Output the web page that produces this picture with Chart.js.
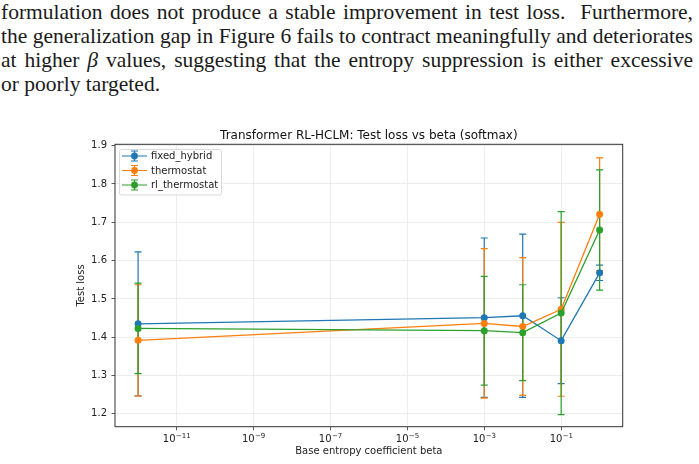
<!DOCTYPE html>
<html>
<head>
<meta charset="utf-8">
<script src="https://cdn.jsdelivr.net/npm/chart.js"></script>
<style>
  html, body { margin: 0; padding: 0; background: #fff; }
  body { width: 699px; height: 464px; position: relative; overflow: hidden; }
  .para { position: absolute; left: 1px; top: 0; width: 692px;
          font-family: "Liberation Serif", "DejaVu Serif", serif; font-size: 21.5px;
          color: #1a1a1a; line-height: 24px; }
  .para div { text-align: justify; text-align-last: justify; height: 24px; }
  .para div.last { text-align-last: left; }
  #chart { position: absolute; left: 0; top: 100px; }
</style>
</head>
<body>
<div class="para">
  <div>formulation does not produce a stable improvement in test loss. &nbsp;Furthermore,</div>
  <div>the generalization gap in Figure 6 fails to contract meaningfully and deteriorates</div>
  <div>at higher <i>β</i> values, suggesting that the entropy suppression is either excessive</div>
  <div class="last">or poorly targeted.</div>
</div>
<canvas id="chart" width="699" height="364"></canvas>
<script>
// x values (base entropy coefficient beta)
const betas = [1e-12, 1e-3, 1e-2, 1e-1, 1];

// mean test loss and error per series
const fixedHybrid = [1.435, 1.451, 1.456, 1.391, 1.568];
const fixedHybridErr = [0.188, 0.208, 0.213, 0.112, 0.020];
const thermostat = [1.392, 1.436, 1.428, 1.473, 1.721];
const thermostatErr = [0.145, 0.195, 0.180, 0.227, 0.147];
const rlThermostat = [1.423, 1.417, 1.412, 1.463, 1.680];
const rlThermostatErr = [0.118, 0.142, 0.125, 0.265, 0.157];

// tick labels
const yTicks = [1.2, 1.3, 1.4, 1.5, 1.6, 1.7, 1.8, 1.9];
const xTickExps = [-11, -9, -7, -5, -3, -1];

const seriesNames = ['fixed_hybrid', 'thermostat', 'rl_thermostat'];
const seriesColors = ['#1f77b4', '#ff7f0e', '#2ca02c'];
const seriesVals = [fixedHybrid, thermostat, rlThermostat];
const seriesErrs = [fixedHybridErr, thermostatErr, rlThermostatErr];

const FONT = '"DejaVu Sans", sans-serif';
const CAP = 3.5;

function toPoints(vals) {
    return betas.map((b, i) => ({ x: b, y: vals[i] }));
}

// error bars: all of them under all the lines, like matplotlib
const errorBars = {
    id: 'errorBars',
    beforeDatasetsDraw(chart) {
        const ctx = chart.ctx;
        const xs = chart.scales.x, ys = chart.scales.y;
        ctx.save();
        ctx.lineWidth = 1.2;
        seriesVals.forEach((vals, s) => {
            ctx.strokeStyle = seriesColors[s];
            vals.forEach((v, i) => {
                const px = xs.getPixelForValue(betas[i]);
                const top = ys.getPixelForValue(v + seriesErrs[s][i]);
                const bot = ys.getPixelForValue(v - seriesErrs[s][i]);
                ctx.beginPath();
                ctx.moveTo(px, top); ctx.lineTo(px, bot);
                ctx.moveTo(px - CAP, top); ctx.lineTo(px + CAP, top);
                ctx.moveTo(px - CAP, bot); ctx.lineTo(px + CAP, bot);
                ctx.stroke();
            });
        });
        ctx.restore();
    }
};

// frame, title, log tick labels, legend
const decorations = {
    id: 'decorations',
    afterDraw(chart) {
        const ctx = chart.ctx;
        const area = chart.chartArea;
        const xs = chart.scales.x;
        ctx.save();

        // frame
        ctx.strokeStyle = '#333';
        ctx.lineWidth = 1;
        ctx.strokeRect(area.left, area.top, area.right - area.left, area.bottom - area.top);

        // title
        ctx.fillStyle = '#111';
        ctx.font = '12px ' + FONT;
        ctx.textAlign = 'center';
        ctx.textBaseline = 'alphabetic';
        ctx.fillText('Transformer RL-HCLM: Test loss vs beta (softmax)', (area.left + area.right) / 2, 38.7);

        // x tick labels 10^n
        xTickExps.forEach(e => {
            const px = xs.getPixelForValue(Math.pow(10, e));
            const base = '10', sup = '\u2212' + Math.abs(e);
            ctx.font = '10px ' + FONT;
            const wb = ctx.measureText(base).width;
            ctx.font = '7px ' + FONT;
            const ws = ctx.measureText(sup).width;
            const x0 = px - (wb + ws) / 2;
            ctx.textAlign = 'left';
            ctx.fillStyle = '#222';
            ctx.font = '10px ' + FONT;
            ctx.fillText(base, x0, 342);
            ctx.font = '7px ' + FONT;
            ctx.fillText(sup, x0 + wb + 0.3, 338);
        });

        // legend
        const lx = 119.5, ly = 149.5 - 100, lw = 102, lh = 45.5;
        ctx.fillStyle = 'rgba(255,255,255,0.8)';
        ctx.strokeStyle = '#d0d0d0';
        ctx.lineWidth = 0.8;
        ctx.beginPath();
        ctx.roundRect(lx, ly, lw, lh, 2);
        ctx.fill();
        ctx.stroke();
        chart.data.datasets.forEach((ds, i) => {
            const ry = ly + 6.5 + i * 14.5;
            const cx = 134.5;
            ctx.strokeStyle = ds.borderColor;
            ctx.fillStyle = ds.borderColor;
            ctx.lineWidth = 1.2;
            ctx.beginPath();
            ctx.moveTo(122, ry); ctx.lineTo(147, ry);
            ctx.moveTo(cx, ry - 5); ctx.lineTo(cx, ry + 5);
            ctx.moveTo(cx - CAP, ry - 5); ctx.lineTo(cx + CAP, ry - 5);
            ctx.moveTo(cx - CAP, ry + 5); ctx.lineTo(cx + CAP, ry + 5);
            ctx.stroke();
            ctx.beginPath();
            ctx.arc(cx, ry, 3.4, 0, Math.PI * 2);
            ctx.fill();
            ctx.fillStyle = '#222';
            ctx.font = '10px ' + FONT;
            ctx.textAlign = 'left';
            ctx.textBaseline = 'middle';
            ctx.fillText(ds.label, 151, ry + 0.5);
        });

        ctx.restore();
    }
};

const datasets = seriesNames.map((name, s) => ({
    label: name,
    data: toPoints(seriesVals[s]),
    borderColor: seriesColors[s],
    backgroundColor: seriesColors[s],
    borderWidth: 1.3,
    pointRadius: 3.5,
    pointBorderWidth: 0,
    pointHoverRadius: 3.5,
    tension: 0,
    order: 3 - s
}));

new Chart(document.getElementById('chart'), {
    type: 'line',
    data: { datasets: datasets },
    options: {
        responsive: false,
        animation: false,
        events: [],
        layout: { padding: { top: 44.3, right: 76.3, left: 72, bottom: 0 } },
        plugins: {
            legend: { display: false },
            title: { display: false },
            tooltip: { enabled: false }
        },
        scales: {
            x: {
                type: 'logarithmic',
                min: Math.pow(10, -12.6),
                max: Math.pow(10, 0.6),
                afterBuildTicks: scale => {
                    scale.ticks = xTickExps.map(e => ({ value: Math.pow(10, e) }));
                },
                afterFit: scale => { scale.height = 37.3; },
                ticks: { display: false },
                grid: { color: '#e8e8e8', lineWidth: 0.8, drawTicks: true, tickLength: 3.5, tickColor: '#333' },
                border: { display: false },
                title: {
                    display: true,
                    text: 'Base entropy coefficient beta',
                    color: '#222',
                    font: { family: FONT, size: 10 },
                    padding: { top: 0, bottom: 6.5 }
                }
            },
            y: {
                min: 1.1665,
                max: 1.9035,
                afterBuildTicks: scale => {
                    scale.ticks = yTicks.map(v => ({ value: v }));
                },
                afterFit: scale => { scale.width = 115 - 72; },
                ticks: {
                    color: '#222',
                    font: { family: FONT, size: 10 },
                    padding: 4.5,
                    callback: v => Number(v).toFixed(1)
                },
                grid: { color: '#e8e8e8', lineWidth: 0.8, drawTicks: true, tickLength: 3.5, tickColor: '#333' },
                border: { display: false },
                title: {
                    display: true,
                    text: 'Test loss',
                    color: '#222',
                    font: { family: FONT, size: 10 },
                    padding: { top: 3, bottom: 0 }
                }
            }
        }
    },
    plugins: [errorBars, decorations]
});
</script>
</body>
</html>
